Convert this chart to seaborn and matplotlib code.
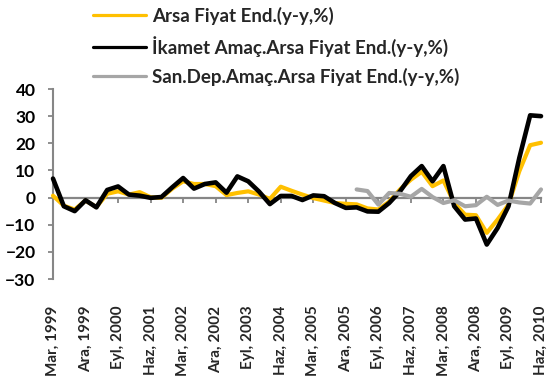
import matplotlib
matplotlib.use("Agg")
import matplotlib.pyplot as plt
import numpy as np
import pandas as pd
import seaborn as sns

# Quarterly periods, Mar 1999 ... Haz 2010 (46 quarters)
quarters = list(range(46))
tick_positions = list(range(0, 46, 3))
tick_labels = ["Mar, 1999", "Ara, 1999", "Eyl, 2000", "Haz, 2001", "Mar, 2002",
               "Ara, 2002", "Eyl, 2003", "Haz, 2004", "Mar, 2005", "Ara, 2005",
               "Eyl, 2006", "Haz, 2007", "Mar, 2008", "Ara, 2008", "Eyl, 2009",
               "Haz, 2010"]

arsa = [0.7, -3.0, -4.4, -1.1, -3.5, 1.4, 2.3, 1.1, 2.0, 0.1,
        -0.1, 3.3, 6.0, 5.0, 5.0, 4.2, 0.9, 1.7, 2.3, 1.1,
        -0.5, 4.0, 2.5, 1.1, -0.2, -1.1, -2.0, -2.3, -2.5, -4.0,
        -4.4, -1.5, 3.0, 6.6, 9.5, 4.2, 6.3, -2.0, -6.3, -6.5,
        -13.0, -8.1, -2.6, 9.7, 19.3, 20.2]

ikamet = [7.0, -3.2, -5.0, -1.0, -3.6, 2.8, 4.1, 1.1, 0.7, -0.1,
          0.2, 3.8, 7.2, 3.3, 5.0, 5.6, 1.8, 7.8, 6.0, 2.2,
          -2.4, 0.6, 0.6, -0.9, 0.8, 0.5, -2.0, -3.8, -3.6, -5.1,
          -5.2, -2.0, 2.3, 7.9, 11.6, 6.0, 11.6, -3.2, -8.1, -7.7,
          -17.3, -11.2, -3.2, 14.6, 30.3, 30.0]

# industrial series begins at Ara 2005
sanayi_quarters = quarters[28:]
sanayi = [3.0, 2.4, -2.6, 1.7, 1.4, 0.3, 3.2, 0.2, -2.0, -1.0,
          -3.2, -2.8, 0.3, -2.7, -1.1, -1.8, -2.2, 3.0]

names = ["Arsa Fiyat End.(y-y,%)",
         "İkamet Amaç.Arsa Fiyat End.(y-y,%)",
         "San.Dep.Amaç.Arsa Fiyat End.(y-y,%)"]
colors = ["#FFC000", "#000000", "#A6A6A6"]
axis_gray = "#868686"

sns.set_theme(style="white")
plt.rcParams["font.family"] = ["Lato", "DejaVu Sans"]
plt.rcParams["font.weight"] = "bold"
W = "bold"

fig = plt.figure(figsize=(5.5, 3.83), dpi=100)
ax = fig.add_axes([53 / 550, 1 - 279 / 383, (541 - 53) / 550, (279 - 89) / 383])

df_arsa = pd.DataFrame({"q": quarters, "v": arsa})
df_ikamet = pd.DataFrame({"q": quarters, "v": ikamet})
df_sanayi = pd.DataFrame({"q": sanayi_quarters, "v": sanayi})

for df, name, color, lw in [(df_arsa, names[0], colors[0], 3.0),
                            (df_ikamet, names[1], colors[1], 3.3),
                            (df_sanayi, names[2], colors[2], 3.0)]:
    sns.lineplot(data=df, x="q", y="v", ax=ax, color=color, linewidth=lw,
                 label=name, clip_on=False, zorder=3)

ax.set_xlim(0, 45)
ax.set_ylim(-30, 40)
ax.set_yticks(range(-30, 41, 10))
ax.set_xlabel("")
ax.set_ylabel("")

for side in ["top", "right", "bottom"]:
    ax.spines[side].set_visible(False)
ax.spines["left"].set_color(axis_gray)
ax.spines["left"].set_linewidth(1.5)

ax.tick_params(axis="y", direction="out", length=3.6, width=1.3, color=axis_gray,
               labelsize=12.5, pad=9, left=True, labelcolor="black")
for t in ax.get_yticklabels():
    t.set_fontweight(W)

ax.set_xticks(tick_positions)
ax.set_xticklabels(tick_labels, rotation=90, fontsize=11, fontweight=W)
ax.tick_params(axis="x", length=0, pad=19, bottom=False)

# zero line carrying the category tick marks
zero_axis = ax.secondary_xaxis(30 / 70)
zero_axis.spines["bottom"].set_color(axis_gray)
zero_axis.spines["bottom"].set_linewidth(1.6)
zero_axis.set_xticks(tick_positions)
zero_axis.tick_params(direction="out", length=3.6, width=1.3, color=axis_gray,
                      labelbottom=False)

leg = ax.legend(loc="upper left", bbox_to_anchor=(93 / 550, 0.982),
                bbox_transform=fig.transFigure, frameon=False,
                fontsize=13.5, handlelength=2.8, handletextpad=0.35,
                labelspacing=0.58, borderpad=0, borderaxespad=0)
for text in leg.get_texts():
    text.set_fontweight(W)
for line in leg.get_lines():
    line.set_linewidth(2.3)

fig.savefig("out.png", dpi=100)
